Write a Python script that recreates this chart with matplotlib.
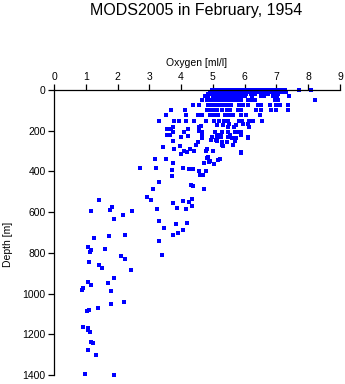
import matplotlib
matplotlib.use("Agg")
import matplotlib.pyplot as plt

plt.rcParams["font.family"] = ["Liberation Sans", "DejaVu Sans"]

# Oxygen at standard upper levels (m): one list per level
levels_m = [0, 10, 20, 30, 50, 75, 100, 125, 150]
ox_0 = [4.97, 5.06, 5.14, 5.21, 5.30, 5.37, 5.44, 5.52, 5.60, 5.67, 5.74, 5.83,
        5.90, 6.02, 6.11, 6.19, 6.30, 6.38, 6.47, 6.55, 6.64, 6.73, 6.80, 6.88,
        6.96, 7.04, 7.12, 7.20, 7.27, 7.72, 8.10]
ox_10 = [4.90, 5.00, 5.09, 5.17, 5.25, 5.33, 5.41, 5.49, 5.57, 5.66, 5.75, 5.84,
         5.92, 6.00, 6.15, 6.24, 6.40, 6.50, 6.61, 6.70, 6.86, 6.99, 7.08, 7.18, 7.30]
ox_20 = [4.85, 4.95, 5.04, 5.13, 5.22, 5.31, 5.40, 5.48, 5.56, 5.63, 5.71, 5.80,
         5.88, 6.05, 6.20, 6.33, 6.55, 6.72, 6.90, 7.05]
ox_30 = [4.75, 4.84, 5.00, 5.08, 5.16, 5.25, 5.33, 5.42, 5.50, 5.58, 5.66, 5.75,
         5.84, 5.93, 6.02, 6.22, 6.50, 6.62, 6.88, 7.02, 7.40]
ox_50 = [4.67, 4.80, 4.90, 4.99, 5.08, 5.17, 5.26, 5.35, 5.44, 5.53, 5.62, 5.71,
         5.80, 5.90, 6.10, 6.20, 6.32, 6.97, 7.06, 8.22]
ox_75 = [4.38, 4.57, 4.86, 4.95, 5.05, 5.15, 5.26, 5.36, 5.48, 5.58, 5.82,
         5.95, 6.10, 6.42, 6.52, 6.81, 6.98, 7.12, 7.37]
ox_100 = [3.67, 4.13, 4.82, 4.92, 5.02, 5.12, 5.30, 5.45, 5.55, 5.78,
          5.90, 6.35, 6.50, 6.82, 7.00, 7.36]
ox_125 = [3.53, 4.16, 4.54, 4.66, 4.90, 5.02, 5.15, 5.38, 5.50, 5.62,
          5.88, 6.05, 6.48]
ox_150 = [3.31, 3.77, 3.92, 4.14, 4.42, 4.78, 5.04, 5.19, 5.35, 5.46, 5.82, 5.92,
          6.15, 6.26, 6.56]
level_ox = [ox_0, ox_10, ox_20, ox_30, ox_50, ox_75, ox_100, ox_125, ox_150]

# Scattered deeper observations
deep_depth = [165, 165, 165, 172, 172, 172, 175, 183, 192, 193, 193, 180, 180, 180, 180,
              205, 201, 205, 205, 204, 204, 204, 204, 204, 204,
              223, 223, 228, 232, 223, 221, 221, 221, 221,
              231, 231, 231, 231, 231, 237, 237, 237, 237,
              246, 246, 249, 257, 249, 252, 255, 255,
              272, 272, 272, 275, 277, 282, 290, 288, 291,
              301, 306, 301, 316, 300, 301, 309, 305,
              331, 339, 339, 332, 342, 350, 352, 357, 360, 365, 341,
              385, 381, 395, 385, 390, 390, 396, 396,
              421, 419, 419,
              454, 467, 472, 485, 488,
              527, 542, 542, 537, 548, 547, 557, 570,
              576, 581, 584, 586, 591, 596, 596, 612, 635, 645,
              652, 657, 679, 689, 702, 711,
              714, 719, 728, 743,
              771, 783, 788, 797, 812, 817, 832, 846, 861, 876, 882,
              925, 945, 950, 959, 974, 984, 989,
              1041, 1052, 1072, 1082, 1084, 1166, 1167, 1177, 1187,
              1236, 1245, 1279, 1303, 1395, 1401]
deep_ox = [5.50, 5.95, 6.10, 5.12, 5.32, 5.74, 4.64, 3.75, 3.67, 3.57, 4.22, 4.57, 5.49, 5.65, 6.13,
           3.75, 4.57, 4.66, 4.09, 5.08, 5.28, 5.49, 5.69, 5.78, 5.87,
           3.57, 3.64, 4.22, 4.01, 4.66, 5.13, 5.25, 5.53, 5.87,
           4.96, 5.12, 5.27, 5.48, 6.11, 4.66, 5.59, 5.72, 6.11,
           4.94, 5.11, 5.14, 5.45, 5.70, 3.73, 5.30, 4.54,
           4.47, 5.30, 5.64, 3.98, 5.32, 3.43, 3.78, 4.29, 4.82,
           4.10, 4.17, 4.41, 4.01, 4.79, 5.01, 5.89, 5.87,
           4.85, 3.19, 3.52, 4.82, 5.17, 4.91, 4.88, 4.73, 3.74, 5.03, 5.22,
           2.71, 3.22, 3.72, 4.07, 4.26, 4.38, 4.56, 4.77,
           3.72, 4.59, 4.70,
           3.31, 4.31, 4.38, 4.73, 3.11,
           2.94, 3.06, 1.43, 4.35, 4.26, 4.07, 3.73, 4.35,
           1.84, 3.87, 4.16, 3.25, 1.77, 1.17, 2.46, 2.18, 1.90, 3.30,
           4.19, 3.85, 3.47, 4.06, 3.89, 3.75,
           2.24, 1.74, 1.27, 3.31,
           1.08, 1.62, 1.16, 1.13, 3.39, 2.10, 2.24, 1.09, 1.43, 1.50, 2.43,
           1.90, 1.08, 1.71, 1.17, 0.92, 0.87, 1.80,
           2.20, 1.79, 1.39, 1.10, 1.05, 0.92, 1.08, 1.08, 1.14,
           1.18, 1.22, 1.08, 1.33, 0.98, 1.88]

x_ticks = [0, 1, 2, 3, 4, 5, 6, 7, 8, 9]
y_ticks = [0, 200, 400, 600, 800, 1000, 1200, 1400]

fig = plt.figure(figsize=(3.45, 3.84), dpi=100)
ax = fig.add_axes([54 / 345, 1 - 375 / 384, 286 / 345, 285 / 384])

# crisp 3px squares, no antialiasing
mk = dict(marker="s", linestyle="none", color="#0000ff", markersize=2.2,
          markeredgewidth=0, antialiased=False, clip_on=False)
for lev, oxs in zip(levels_m, level_ox):
    ax.plot(oxs, [lev] * len(oxs), **mk)
ax.plot(deep_ox, deep_depth, **mk)

ax.set_xlim(0, 9)
ax.set_ylim(1400, 0)
ax.set_xticks(x_ticks)
ax.set_yticks(y_ticks)
ax.xaxis.tick_top()
ax.xaxis.set_label_position("top")
for s in ["bottom", "right"]:
    ax.spines[s].set_visible(False)
for s in ["top", "left"]:
    ax.spines[s].set_linewidth(0.9)
ax.tick_params(axis="both", direction="out", length=4, width=0.9,
               labelsize=7.5, pad=2)
ax.set_xlabel("Oxygen [ml/l]", fontsize=7.5, labelpad=4)
ax.set_ylabel("Depth [m]", fontsize=7.5)
ax.yaxis.set_label_coords(-0.145, 0.46)

fig.text(196 / 345, 1 - 11 / 384, "MODS2005 in February, 1954",
         ha="center", va="center", fontsize=11.5)

fig.savefig("out.png", dpi=100)
